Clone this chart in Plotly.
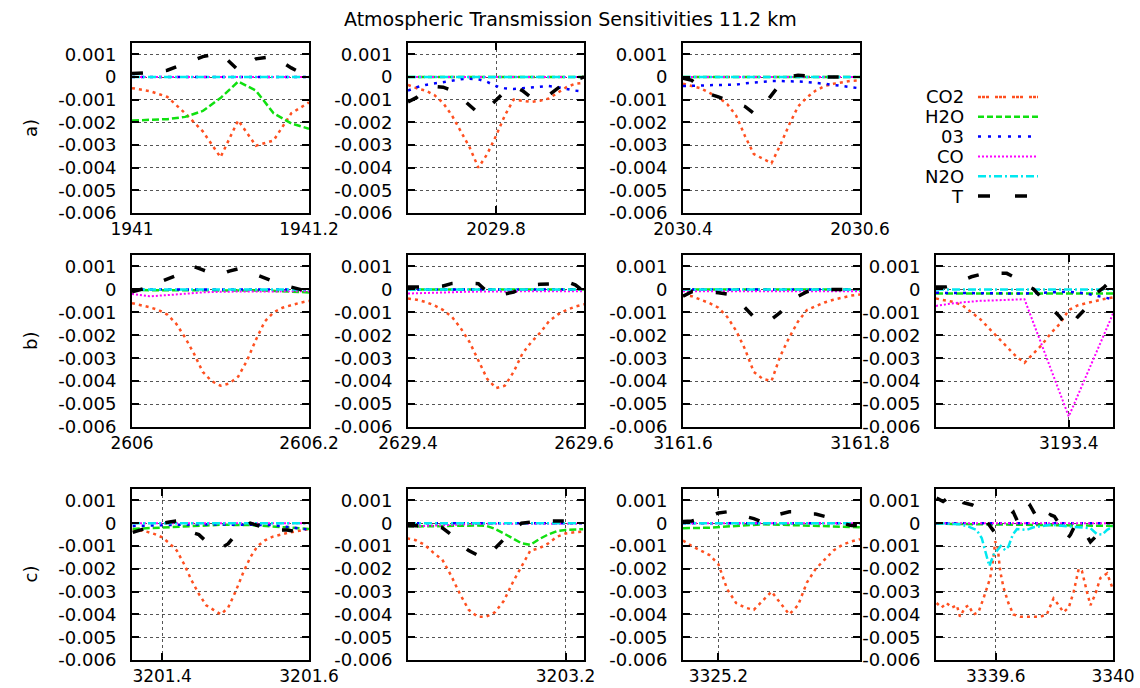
import plotly.graph_objects as go

# ------------------------------------------------------------------ data
title_text = "Atmospheric Transmission Sensitivities 11.2 km"
series_names = ["CO2", "H2O", "03", "CO", "N2O", "T"]
row_labels = ["a)", "b)", "c)"]
y_ticks = [0.001, 0.0, -0.001, -0.002, -0.003, -0.004, -0.005, -0.006]
y_ticklabels = ["0.001", "0", "-0.001", "-0.002", "-0.003", "-0.004", "-0.005", "-0.006"]
y_range = [-0.006, 0.0015]
flat_zero = [0.0, 0.0]

# --- a1
a1_range = [1941.0, 1941.2]
a1_ticks = [1941.0, 1941.2]
a1_ticklabels = ["1941", "1941.2"]
a1_x = [1941.00, 1941.02, 1941.04, 1941.06, 1941.08, 1941.10, 1941.12, 1941.14, 1941.16, 1941.18, 1941.20]
a1_co2 = [-0.00049, -0.00062, -0.00088, -0.00160, -0.00240, -0.00354, -0.00191, -0.00303, -0.00280, -0.00160, -0.00112]
a1_h2o = [-0.00192, -0.00190, -0.00186, -0.00176, -0.00150, -0.00093, -0.00020, -0.00060, -0.00160, -0.00205, -0.00228]
a1_t = [0.00015, 0.00020, 0.00030, 0.00058, 0.00090, 0.00105, 0.00030, 0.00080, 0.00090, 0.00040, 0.00000]

# --- a2
a2_range = [2029.7, 2029.9]
a2_ticks = [2029.8]
a2_ticklabels = ["2029.8"]
a2_x = [2029.70, 2029.71, 2029.72, 2029.73, 2029.74, 2029.75, 2029.76, 2029.77, 2029.78, 2029.79, 2029.80,
        2029.81, 2029.82, 2029.83, 2029.84, 2029.85, 2029.86, 2029.87, 2029.88, 2029.89, 2029.90]
a2_co2 = [-0.00035, -0.00050, -0.00060, -0.00080, -0.00115, -0.00170, -0.00240, -0.00310, -0.00400, -0.00340, -0.00260,
          -0.00170, -0.00100, -0.00105, -0.00110, -0.00105, -0.00095, -0.00070, -0.00045, -0.00030, -0.00025]
a2_o3 = [-0.00060, -0.00045, -0.00035, -0.00028, -0.00022, -0.00015, -0.00010, -0.00008, -0.00010, -0.00022, -0.00040,
         -0.00050, -0.00053, -0.00050, -0.00047, -0.00042, -0.00040, -0.00045, -0.00053, -0.00060, -0.00065]
a2_t = [-0.00110, -0.00090, -0.00060, -0.00042, -0.00045, -0.00060, -0.00090, -0.00125, -0.00160, -0.00140, -0.00105,
        -0.00065, -0.00040, -0.00060, -0.00090, -0.00095, -0.00080, -0.00050, -0.00026, -0.00012, 0.00000]

# --- a3
a3_range = [2030.4, 2030.6]
a3_ticks = [2030.4, 2030.6]
a3_ticklabels = ["2030.4", "2030.6"]
a3_x = [2030.40, 2030.41, 2030.42, 2030.43, 2030.44, 2030.45, 2030.46, 2030.47, 2030.48, 2030.49, 2030.50,
        2030.51, 2030.52, 2030.53, 2030.54, 2030.55, 2030.56, 2030.57, 2030.58, 2030.59, 2030.60]
a3_co2 = [-0.00030, -0.00040, -0.00050, -0.00070, -0.00090, -0.00120, -0.00170, -0.00260, -0.00340, -0.00360, -0.00380,
          -0.00300, -0.00210, -0.00130, -0.00090, -0.00060, -0.00040, -0.00030, -0.00022, -0.00017, -0.00015]
a3_o3 = [-0.00040, -0.00040, -0.00038, -0.00036, -0.00035, -0.00034, -0.00034, -0.00028, -0.00024, -0.00020, -0.00018,
         -0.00018, -0.00018, -0.00020, -0.00022, -0.00025, -0.00030, -0.00035, -0.00040, -0.00045, -0.00050]
a3_t = [-0.00005, -0.00015, -0.00045, -0.00075, -0.00088, -0.00100, -0.00115, -0.00130, -0.00160, -0.00130, -0.00080,
        -0.00030, 0.00000, 0.00008, 0.00005, 0.00000, 0.00000, 0.00000, 0.00000, 0.00000, 0.00000]

# --- b1
b1_range = [2606.0, 2606.2]
b1_ticks = [2606.0, 2606.2]
b1_ticklabels = ["2606", "2606.2"]
b1_x = [2606.00, 2606.01, 2606.02, 2606.03, 2606.04, 2606.05, 2606.06, 2606.07, 2606.08, 2606.09, 2606.10,
        2606.11, 2606.12, 2606.13, 2606.14, 2606.15, 2606.16, 2606.17, 2606.18, 2606.19, 2606.20]
b1_co2 = [-0.00060, -0.00068, -0.00078, -0.00090, -0.00110, -0.00150, -0.00210, -0.00280, -0.00360, -0.00400, -0.00420,
          -0.00410, -0.00380, -0.00310, -0.00220, -0.00140, -0.00100, -0.00080, -0.00068, -0.00058, -0.00050]
b1_t = [-0.00010, 0.00000, 0.00010, 0.00030, 0.00045, 0.00060, 0.00080, 0.00100, 0.00085, 0.00070, 0.00065,
        0.00080, 0.00090, 0.00080, 0.00065, 0.00050, 0.00035, 0.00020, 0.00010, 0.00000, -0.00010]
b1_co_x = [2606.00, 2606.02, 2606.04, 2606.06, 2606.08, 2606.10, 2606.14, 2606.20]
b1_co = [-0.00020, -0.00030, -0.00025, -0.00018, -0.00013, -0.00010, -0.00008, -0.00008]
b1_h2o_x = [2606.00, 2606.15, 2606.20]
b1_h2o = [-0.00003, -0.00005, -0.00013]

# --- b2
b2_range = [2629.4, 2629.6]
b2_ticks = [2629.4, 2629.6]
b2_ticklabels = ["2629.4", "2629.6"]
b2_x = [2629.40, 2629.41, 2629.42, 2629.43, 2629.44, 2629.45, 2629.46, 2629.47, 2629.48, 2629.49, 2629.50,
        2629.51, 2629.52, 2629.53, 2629.54, 2629.55, 2629.56, 2629.57, 2629.58, 2629.59, 2629.60]
b2_co2 = [-0.00040, -0.00045, -0.00055, -0.00070, -0.00090, -0.00120, -0.00170, -0.00230, -0.00310, -0.00390, -0.00430,
          -0.00420, -0.00360, -0.00280, -0.00230, -0.00190, -0.00140, -0.00110, -0.00090, -0.00075, -0.00065]
b2_t = [0.00010, 0.00010, 0.00010, 0.00012, 0.00015, 0.00026, 0.00028, 0.00027, 0.00025, -0.00010, -0.00025,
        -0.00020, -0.00012, 0.00010, 0.00020, 0.00022, 0.00022, 0.00025, 0.00035, 0.00020, -0.00010]
b2_co_x = [2629.40, 2629.47, 2629.53, 2629.60]
b2_co = [-0.00018, -0.00010, -0.00008, -0.00008]

# --- b3
b3_range = [3161.6, 3161.8]
b3_ticks = [3161.6, 3161.8]
b3_ticklabels = ["3161.6", "3161.8"]
b3_x = [3161.60, 3161.61, 3161.62, 3161.63, 3161.64, 3161.65, 3161.66, 3161.67, 3161.68, 3161.69, 3161.70,
        3161.71, 3161.72, 3161.73, 3161.74, 3161.75, 3161.76, 3161.77, 3161.78, 3161.79, 3161.80]
b3_co2 = [-0.00025, -0.00030, -0.00045, -0.00060, -0.00080, -0.00120, -0.00180, -0.00260, -0.00360, -0.00390, -0.00400,
          -0.00290, -0.00210, -0.00140, -0.00090, -0.00072, -0.00057, -0.00045, -0.00035, -0.00027, -0.00022]
b3_t = [-0.00030, -0.00010, -0.00010, -0.00010, -0.00015, -0.00020, -0.00040, -0.00080, -0.00120, -0.00140, -0.00130,
        -0.00100, -0.00060, -0.00030, -0.00010, 0.00000, 0.00000, 0.00000, 0.00000, 0.00000, 0.00000]
b3_co_x = [3161.60, 3161.80]
b3_co = [-0.00008, -0.00008]

# --- b4
b4_range = [3193.25, 3193.45]
b4_ticks = [3193.4]
b4_ticklabels = ["3193.4"]
b4_x = [3193.25, 3193.26, 3193.27, 3193.28, 3193.29, 3193.30, 3193.31, 3193.32, 3193.33, 3193.34, 3193.35,
        3193.36, 3193.37, 3193.38, 3193.39, 3193.40, 3193.41, 3193.42, 3193.43, 3193.44, 3193.45]
b4_co2 = [-0.00040, -0.00048, -0.00055, -0.00070, -0.00100, -0.00130, -0.00170, -0.00210, -0.00250, -0.00290, -0.00320,
          -0.00280, -0.00240, -0.00190, -0.00150, -0.00090, -0.00070, -0.00060, -0.00050, -0.00042, -0.00035]
b4_t = [0.00010, 0.00010, 0.00020, 0.00040, 0.00055, 0.00065, 0.00070, 0.00070, 0.00070, 0.00050, 0.00020,
        0.00002, -0.00040, -0.00080, -0.00120, -0.00170, -0.00120, -0.00080, -0.00020, 0.00010, 0.00050]
b4_co_x = [3193.25, 3193.27, 3193.30, 3193.33, 3193.35, 3193.40, 3193.45]
b4_co = [-0.00072, -0.00060, -0.00050, -0.00045, -0.00043, -0.00554, -0.00106]
b4_h2o_x = [3193.25, 3193.45]
b4_h2o = [-0.00018, -0.00018]
b4_o3_x = [3193.25, 3193.35, 3193.40, 3193.42, 3193.44, 3193.45]
b4_o3 = [-0.00015, -0.00018, -0.00010, -0.00018, -0.00035, -0.00043]

# --- c1
c1_range = [3201.359, 3201.6]
c1_ticks = [3201.4, 3201.6]
c1_ticklabels = ["3201.4", "3201.6"]
c1_x = [3201.36, 3201.37, 3201.38, 3201.39, 3201.40, 3201.41, 3201.42, 3201.43, 3201.44, 3201.45, 3201.46, 3201.47,
        3201.48, 3201.49, 3201.50, 3201.51, 3201.52, 3201.53, 3201.54, 3201.55, 3201.56, 3201.57, 3201.58, 3201.59,
        3201.60]
c1_co2 = [-0.00025, -0.00030, -0.00038, -0.00048, -0.00062, -0.00088, -0.00120, -0.00180, -0.00250, -0.00310, -0.00360,
          -0.00380, -0.00400, -0.00370, -0.00300, -0.00220, -0.00150, -0.00100, -0.00075, -0.00060, -0.00050, -0.00043,
          -0.00037, -0.00030, -0.00026]
c1_t = [-0.00040, -0.00030, -0.00020, -0.00010, 0.00000, 0.00005, 0.00010, -0.00010, -0.00040, -0.00050, -0.00080,
        -0.00100, -0.00110, -0.00090, -0.00050, -0.00020, 0.00000, -0.00010, -0.00020, -0.00025, -0.00030, -0.00030,
        -0.00035, -0.00040, -0.00040]
c1_h2o_x = [3201.36, 3201.40, 3201.44, 3201.48, 3201.52, 3201.56, 3201.60]
c1_h2o = [-0.00025, -0.00020, -0.00012, -0.00007, -0.00008, -0.00017, -0.00025]
c1_o3_x = [3201.36, 3201.45, 3201.55, 3201.58, 3201.60]
c1_o3 = [-0.00012, -0.00005, -0.00008, -0.00020, -0.00028]

# --- c2
c2_range = [3203.021, 3203.221]
c2_ticks = [3203.2]
c2_ticklabels = ["3203.2"]
c2_x = [3203.02, 3203.03, 3203.04, 3203.05, 3203.06, 3203.07, 3203.08, 3203.09, 3203.10, 3203.11, 3203.12,
        3203.13, 3203.14, 3203.15, 3203.16, 3203.17, 3203.18, 3203.19, 3203.20, 3203.21, 3203.22]
c2_co2 = [-0.00066, -0.00075, -0.00095, -0.00130, -0.00160, -0.00230, -0.00310, -0.00380, -0.00410, -0.00410, -0.00390,
          -0.00340, -0.00260, -0.00190, -0.00120, -0.00110, -0.00090, -0.00060, -0.00045, -0.00040, -0.00037]
c2_h2o = [-0.00015, -0.00014, -0.00013, -0.00012, -0.00011, -0.00010, -0.00010, -0.00010, -0.00010, -0.00012, -0.00025,
          -0.00045, -0.00065, -0.00088, -0.00095, -0.00070, -0.00050, -0.00035, -0.00030, -0.00027, -0.00026]
c2_t = [-0.00010, -0.00010, -0.00010, -0.00012, -0.00020, -0.00050, -0.00090, -0.00120, -0.00140, -0.00150, -0.00110,
        -0.00070, -0.00030, 0.00000, 0.00005, 0.00010, 0.00010, 0.00010, 0.00010, 0.00000, -0.00005]
c2_co_x = [3203.02, 3203.06, 3203.10, 3203.22]
c2_co = [-0.00015, -0.00008, -0.00003, -0.00002]

# --- c3
c3_range = [3325.16, 3325.36]
c3_ticks = [3325.2]
c3_ticklabels = ["3325.2"]
c3_x = [3325.16, 3325.17, 3325.18, 3325.19, 3325.20, 3325.21, 3325.22, 3325.23, 3325.24, 3325.25, 3325.26,
        3325.27, 3325.28, 3325.29, 3325.30, 3325.31, 3325.32, 3325.33, 3325.34, 3325.35, 3325.36]
c3_co2 = [-0.00076, -0.00100, -0.00120, -0.00140, -0.00180, -0.00290, -0.00350, -0.00370, -0.00380, -0.00340, -0.00300,
          -0.00350, -0.00400, -0.00360, -0.00260, -0.00200, -0.00160, -0.00120, -0.00095, -0.00080, -0.00070]
c3_t = [0.00007, 0.00010, 0.00020, 0.00030, 0.00045, 0.00050, 0.00040, 0.00030, 0.00020, 0.00005, 0.00020,
        0.00040, 0.00050, 0.00050, 0.00040, 0.00040, 0.00030, 0.00010, 0.00000, -0.00010, -0.00010]
c3_h2o_x = [3325.16, 3325.19, 3325.22, 3325.25, 3325.28, 3325.32, 3325.36]
c3_h2o = [-0.00022, -0.00020, -0.00012, -0.00005, -0.00008, -0.00012, -0.00018]

# --- c4
c4_range = [3339.396, 3340.0]
c4_ticks = [3339.6, 3340.0]
c4_ticklabels = ["3339.6", "3340"]
c4_co2_x = [3339.398, 3339.415, 3339.432, 3339.450, 3339.467, 3339.478, 3339.495, 3339.507, 3339.524, 3339.541,
            3339.558, 3339.581, 3339.592, 3339.598, 3339.606, 3339.615, 3339.626, 3339.643, 3339.660, 3339.683,
            3339.706, 3339.729, 3339.752, 3339.774, 3339.797, 3339.809, 3339.831, 3339.849, 3339.866, 3339.883,
            3339.894, 3339.911, 3339.923, 3339.940, 3339.957, 3339.980, 3339.997]
c4_co2 = [-0.0035, -0.0037, -0.0035, -0.0037, -0.0036, -0.0041, -0.0037, -0.0036, -0.0040, -0.0039,
          -0.0033, -0.0024, -0.0015, -0.0008, -0.0010, -0.0021, -0.0028, -0.0035, -0.0040, -0.0041,
          -0.0041, -0.0041, -0.0041, -0.0040, -0.0033, -0.0035, -0.0039, -0.0037, -0.0030, -0.0020,
          -0.0021, -0.0030, -0.0036, -0.0031, -0.0024, -0.0022, -0.0028]
c4_n2o_x = [3339.398, 3339.478, 3339.507, 3339.535, 3339.552, 3339.569, 3339.578, 3339.592, 3339.606, 3339.617,
            3339.632, 3339.643, 3339.658, 3339.672, 3339.706, 3339.729, 3339.786, 3339.877, 3339.923, 3339.945,
            3339.963, 3339.980, 3340.000]
c4_n2o = [0.0, -0.00005, -0.00015, -0.00030, -0.00065, -0.00147, -0.00188, -0.00140, -0.00120, -0.00100,
          -0.00118, -0.00103, -0.00050, -0.00026, -0.00029, -0.00018, -0.00007, -0.00015, -0.00022, -0.00048,
          -0.00050, -0.00029, -0.00015]
c4_t_x = [3339.398, 3339.420, 3339.445, 3339.467, 3339.490, 3339.520, 3339.541, 3339.565, 3339.590, 3339.610,
          3339.625, 3339.645, 3339.660, 3339.677, 3339.690, 3339.705, 3339.717, 3339.735, 3339.755, 3339.769,
          3339.786, 3339.800, 3339.815, 3339.831, 3339.843, 3339.855, 3339.870, 3339.890, 3339.906, 3339.923,
          3339.940, 3339.963, 3339.985, 3340.000]
c4_t = [0.00110, 0.00095, 0.00120, 0.00130, 0.00090, 0.00080, 0.00066, 0.00015, -0.00030, -0.00010,
        0.00005, 0.00030, 0.00048, 0.00000, 0.00020, 0.00060, 0.00078, 0.00037, 0.00010, 0.00000,
        0.00037, 0.00030, 0.00000, -0.00040, -0.00070, -0.00050, -0.00010, -0.00010, -0.00044, -0.00082,
        -0.00060, -0.00022, -0.00010, 0.00000]
c4_h2o_x = [3339.396, 3339.850, 3340.000]
c4_h2o = [-0.00002, -0.00008, -0.00012]

# ------------------------------------------------------------ panel table
panels = [
    dict(rng=a1_range, ticks=a1_ticks, labels=a1_ticklabels, series={
        "CO2": (a1_x, a1_co2), "H2O": (a1_x, a1_h2o), "03": (a1_range, flat_zero),
        "CO": (a1_range, flat_zero), "N2O": (a1_range, flat_zero), "T": (a1_x, a1_t)}),
    dict(rng=a2_range, ticks=a2_ticks, labels=a2_ticklabels, series={
        "CO2": (a2_x, a2_co2), "H2O": (a2_range, flat_zero), "03": (a2_x, a2_o3),
        "CO": (a2_range, flat_zero), "N2O": (a2_range, flat_zero), "T": (a2_x, a2_t)}),
    dict(rng=a3_range, ticks=a3_ticks, labels=a3_ticklabels, series={
        "CO2": (a3_x, a3_co2), "H2O": (a3_range, flat_zero), "03": (a3_x, a3_o3),
        "CO": (a3_range, flat_zero), "N2O": (a3_range, flat_zero), "T": (a3_x, a3_t)}),
    dict(rng=b1_range, ticks=b1_ticks, labels=b1_ticklabels, series={
        "CO2": (b1_x, b1_co2), "H2O": (b1_h2o_x, b1_h2o), "03": (b1_range, flat_zero),
        "CO": (b1_co_x, b1_co), "N2O": (b1_range, flat_zero), "T": (b1_x, b1_t)}),
    dict(rng=b2_range, ticks=b2_ticks, labels=b2_ticklabels, series={
        "CO2": (b2_x, b2_co2), "H2O": (b2_range, flat_zero), "03": (b2_range, flat_zero),
        "CO": (b2_co_x, b2_co), "N2O": (b2_range, flat_zero), "T": (b2_x, b2_t)}),
    dict(rng=b3_range, ticks=b3_ticks, labels=b3_ticklabels, series={
        "CO2": (b3_x, b3_co2), "H2O": (b3_range, flat_zero), "03": (b3_range, flat_zero),
        "CO": (b3_co_x, b3_co), "N2O": (b3_range, flat_zero), "T": (b3_x, b3_t)}),
    dict(rng=b4_range, ticks=b4_ticks, labels=b4_ticklabels, series={
        "CO2": (b4_x, b4_co2), "H2O": (b4_h2o_x, b4_h2o), "03": (b4_o3_x, b4_o3),
        "CO": (b4_co_x, b4_co), "N2O": (b4_range, flat_zero), "T": (b4_x, b4_t)}),
    dict(rng=c1_range, ticks=c1_ticks, labels=c1_ticklabels, series={
        "CO2": (c1_x, c1_co2), "H2O": (c1_h2o_x, c1_h2o), "03": (c1_o3_x, c1_o3),
        "CO": (c1_range, flat_zero), "N2O": (c1_range, flat_zero), "T": (c1_x, c1_t)}),
    dict(rng=c2_range, ticks=c2_ticks, labels=c2_ticklabels, series={
        "CO2": (c2_x, c2_co2), "H2O": (c2_x, c2_h2o), "03": (c2_range, flat_zero),
        "CO": (c2_co_x, c2_co), "N2O": (c2_range, flat_zero), "T": (c2_x, c2_t)}),
    dict(rng=c3_range, ticks=c3_ticks, labels=c3_ticklabels, series={
        "CO2": (c3_x, c3_co2), "H2O": (c3_h2o_x, c3_h2o), "03": (c3_range, flat_zero),
        "CO": (c3_range, flat_zero), "N2O": (c3_range, flat_zero), "T": (c3_x, c3_t)}),
    dict(rng=c4_range, ticks=c4_ticks, labels=c4_ticklabels, series={
        "CO2": (c4_co2_x, c4_co2), "H2O": (c4_h2o_x, c4_h2o), "03": (c4_range, flat_zero),
        "CO": (c4_range, flat_zero), "N2O": (c4_n2o_x, c4_n2o), "T": (c4_t_x, c4_t)}),
]

# ------------------------------------------------------------ layout / style
W, H = 1140, 688
FONT = "DejaVu Sans"
TICK_SIZE = 18
XTICK_SIZE = 17
COL_PX = [(132, 309), (408, 584), (683, 860), (936, 1113)]
ROW_PX = [(43, 213), (255, 427), (489, 660)]
GRID_POS = [(0, 0), (0, 1), (0, 2), (1, 0), (1, 1), (1, 2), (1, 3), (2, 0), (2, 1), (2, 2), (2, 3)]

STYLE = {
    "CO2": dict(color="#ff5020", width=2.5, dash="3px,4px"),
    "H2O": dict(color="#10e010", width=2.5, dash="7px,3px"),
    "03": dict(color="#0000ff", width=2.5, dash="3px,6px"),
    "CO": dict(color="#ff00ff", width=2, dash="2px,2px"),
    "N2O": dict(color="#00e8f0", width=2.5, dash="8px,3px,2px,3px"),
    "T": dict(color="#000000", width=3.5, dash="11px,23px"),
}
LEGEND_DASH = {"CO2": "3px,1px,3px,1px,3px,6px", "H2O": "6px,3px", "03": "3px,7px",
               "CO": "2px,2px", "N2O": "8px,3px,2px,3px", "T": "12px,25px"}

fig = go.Figure()
layout = dict(
    template="none",
    width=W, height=H, margin=dict(l=0, r=0, t=0, b=0, pad=0, autoexpand=False),
    paper_bgcolor="white", plot_bgcolor="white", showlegend=False,
    font=dict(family=FONT, size=TICK_SIZE, color="black"),
)

annotations = []
for i, p in enumerate(panels):
    n = i + 1
    sfx = "" if n == 1 else str(n)
    r, c = GRID_POS[i]
    x0, x1 = COL_PX[c]
    y0, y1 = ROW_PX[r]
    common = dict(
        showline=True, linecolor="black", linewidth=2, mirror="ticks",
        ticks="inside", ticklen=7, tickwidth=1.5, tickcolor="black",
        showgrid=True, gridcolor="#555555", griddash="dot", gridwidth=1,
        zeroline=False, fixedrange=True, automargin=False,
    )
    layout["xaxis" + sfx] = dict(
        common, domain=[x0 / W, x1 / W], range=p["rng"], anchor="y" + sfx,
        tickmode="array", tickvals=p["ticks"], ticktext=p["labels"], ticklabelstandoff=0,
        tickfont=dict(family=FONT, size=XTICK_SIZE, color="black"),
    )
    layout["yaxis" + sfx] = dict(
        common, domain=[1 - y1 / H, 1 - y0 / H], range=y_range, anchor="x" + sfx,
        tickmode="array", tickvals=y_ticks, ticktext=y_ticklabels, ticklabelstandoff=10,
        tickfont=dict(family=FONT, size=TICK_SIZE, color="black"),
    )
    for name in series_names:
        xs, ys = p["series"][name]
        fig.add_trace(go.Scatter(x=xs, y=ys, mode="lines", line=STYLE[name],
                                 xaxis="x" + sfx, yaxis="y" + sfx, name=name,
                                 hoverinfo="skip"))

# legend drawn on its own small axis
nl = len(panels) + 1
layout["xaxis%d" % nl] = dict(domain=[978 / W, 1038 / W], range=[0, 1], visible=False,
                              fixedrange=True, automargin=False)
layout["yaxis%d" % nl] = dict(domain=[1 - 206 / H, 1 - 87 / H], range=[len(series_names) + 0.5, 0.5],
                              visible=False, fixedrange=True, automargin=False)
for k, name in enumerate(series_names):
    st = dict(STYLE[name])
    st["dash"] = LEGEND_DASH[name]
    fig.add_trace(go.Scatter(x=[0, 1], y=[k + 1, k + 1], mode="lines", line=st,
                             xaxis="x%d" % nl, yaxis="y%d" % nl, hoverinfo="skip"))
    annotations.append(dict(text=name, x=966 / W, xref="paper", xanchor="right",
                            y=k + 1, yref="y%d" % nl, yanchor="middle", showarrow=False,
                            font=dict(family=FONT, size=TICK_SIZE, color="black")))

annotations.append(dict(text=title_text, x=0.5, xref="paper", xanchor="center",
                        y=1 - 19 / H, yref="paper", yanchor="middle", showarrow=False,
                        font=dict(family=FONT, size=19, color="black")))
for r, lab in enumerate(row_labels):
    y0, y1 = ROW_PX[r]
    annotations.append(dict(text=lab, x=30 / W, xref="paper", xanchor="center",
                            y=1 - (y0 + y1) / 2 / H, yref="paper", yanchor="middle",
                            textangle=-90, showarrow=False,
                            font=dict(family=FONT, size=TICK_SIZE, color="black")))

layout["annotations"] = annotations
fig.update_layout(**layout)
fig.write_html("out.html")
